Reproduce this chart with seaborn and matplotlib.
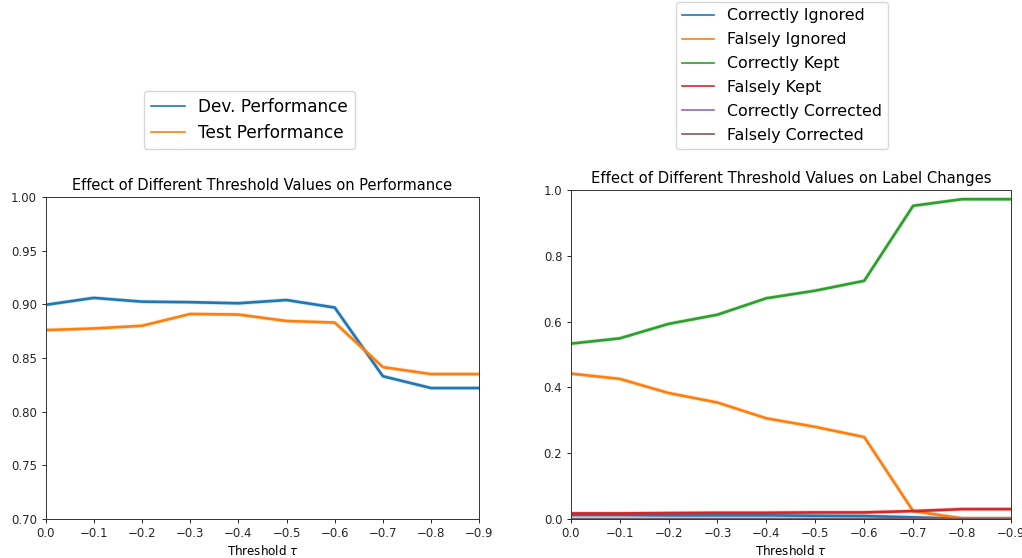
import matplotlib
matplotlib.use("Agg")
import matplotlib.pyplot as plt
import matplotlib.patheffects as pe
from matplotlib.lines import Line2D
import seaborn as sns
import pandas as pd

thresholds = [0.0, -0.1, -0.2, -0.3, -0.4, -0.5, -0.6, -0.7, -0.8, -0.9]

dev_perf = [0.8995, 0.906, 0.9025, 0.902, 0.901, 0.904, 0.897, 0.833, 0.822, 0.822]
test_perf = [0.876, 0.8775, 0.880, 0.891, 0.8905, 0.8845, 0.883, 0.8415, 0.835, 0.835]

correctly_ignored = [0.012, 0.012, 0.011, 0.011, 0.011, 0.010, 0.009, 0.005, 0.001, 0.001]
falsely_ignored = [0.442, 0.426, 0.383, 0.354, 0.306, 0.280, 0.249, 0.024, 0.002, 0.002]
correctly_kept = [0.533, 0.549, 0.593, 0.621, 0.671, 0.694, 0.724, 0.952, 0.972, 0.972]
falsely_kept = [0.017, 0.017, 0.018, 0.019, 0.019, 0.020, 0.020, 0.024, 0.030, 0.030]
correctly_corrected = [0.0, 0.0, 0.0, 0.0, 0.0, 0.0, 0.0, 0.0, 0.0, 0.0]
falsely_corrected = [0.0, 0.0, 0.0, 0.0, 0.0, 0.0, 0.0, 0.0, 0.0, 0.0]

perf_labels = ["Dev. Performance", "Test Performance"]
change_labels = ["Correctly Ignored", "Falsely Ignored", "Correctly Kept",
                 "Falsely Kept", "Correctly Corrected", "Falsely Corrected"]

colors = sns.color_palette("tab10", 6)

W, H = 1022, 558
fig = plt.figure(figsize=(W / 100, H / 100), dpi=100)


def ax_px(x0, y0, x1, y1):
    return fig.add_axes([x0 / W, 1 - y1 / H, (x1 - x0) / W, (y1 - y0) / H])


ax1 = ax_px(45.5, 197, 479.3, 519)
ax2 = ax_px(570.7, 190, 1011, 519)

halo = [pe.Stroke(linewidth=3.0, alpha=0.2), pe.Normal()]

perf_series = [dev_perf, test_perf]
for lab, vals, c in zip(perf_labels, perf_series, colors[:2]):
    df = pd.DataFrame({"t": thresholds, "v": vals})
    sns.lineplot(data=df, x="t", y="v", ax=ax1, color=c, linewidth=1.9,
                 path_effects=halo, legend=False)

change_series = [correctly_ignored, falsely_ignored, correctly_kept,
                 falsely_kept, correctly_corrected, falsely_corrected]
for lab, vals, c in zip(change_labels, change_series, colors):
    df = pd.DataFrame({"t": thresholds, "v": vals})
    sns.lineplot(data=df, x="t", y="v", ax=ax2, color=c, linewidth=1.9,
                 path_effects=halo, legend=False)

ax1.set_xlim(0, -0.9)
ax1.set_ylim(0.70, 1.00)
ax2.set_xlim(0, -0.9)
ax2.set_ylim(0.0, 1.0)

ax1.set_title("Effect of Different Threshold Values on Performance", fontsize=10.5, pad=5)
ax2.set_title("Effect of Different Threshold Values on Label Changes", fontsize=10.65, pad=5)

for ax in (ax1, ax2):
    ax.set_xticks(thresholds)
    ax.set_xlabel(r"Threshold $\tau$", fontsize=8.6, labelpad=2.5)
    ax.set_ylabel("")
    ax.tick_params(labelsize=8.5, length=3, width=0.7, pad=3, colors="#262626")
    for s in ax.spines.values():
        s.set_linewidth(0.7)
        s.set_color("#333333")

ax1.set_yticks([0.70, 0.75, 0.80, 0.85, 0.90, 0.95, 1.00])
ax1.set_yticklabels(["0.70", "0.75", "0.80", "0.85", "0.90", "0.95", "1.00"])
ax2.set_yticks([0.0, 0.2, 0.4, 0.6, 0.8, 1.0])

h1 = [Line2D([], [], color=c, lw=1.2) for c in colors[:2]]
h2 = [Line2D([], [], color=c, lw=1.2) for c in colors]

fig.legend(h1, perf_labels, loc="lower left", bbox_to_anchor=(144 / W, 1 - 149 / H),
           borderaxespad=0, fontsize=12.2, labelspacing=0.5, framealpha=0.8)
fig.legend(h2, change_labels, loc="lower left", bbox_to_anchor=(676 / W, 1 - 149 / H),
           borderaxespad=0, fontsize=11.4, labelspacing=0.56, framealpha=0.8)

fig.savefig("out.png", dpi=100)
